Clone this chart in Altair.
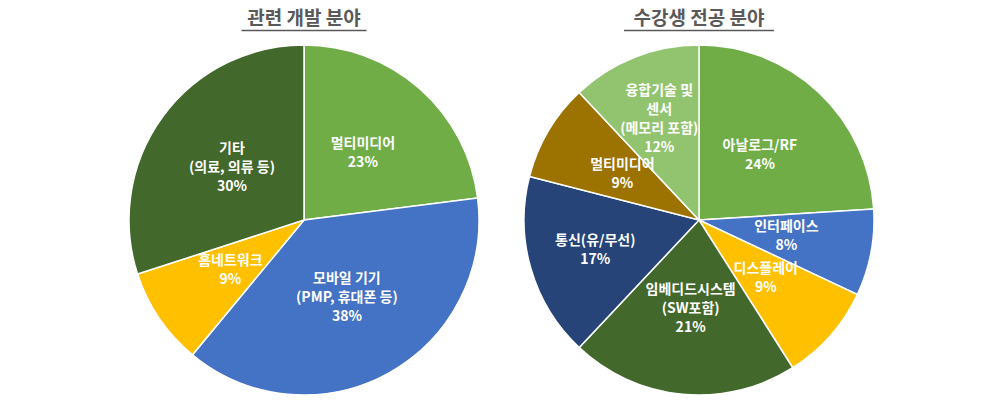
import altair as alt
import pandas as pd

# Left pie: 관련 개발 분야
left_title = "관련 개발 분야"
left_cats = ["멀티미디어", "모바일 기기\n(PMP, 휴대폰 등)", "홈네트워크", "기타\n(의료, 의류 등)"]
left_vals = [23, 38, 9, 30]
left_colors = ["#70AD47", "#4472C4", "#FFC000", "#43682B"]

# Right pie: 수강생 전공 분야
right_title = "수강생 전공 분야"
right_cats = ["아날로그/RF", "인터페이스", "디스플레이", "임베디드시스템\n(SW포함)",
              "통신(유/무선)", "멀티미디어", "융합기술 및\n센서\n(메모리 포함)"]
right_vals = [24, 8, 9, 21, 17, 9, 12]
right_colors = ["#70AD47", "#4472C4", "#FFC000", "#43682B", "#264478", "#9C7200", "#92C46F"]
# labels that Excel pushed further out (best fit)
right_outer = ["k4", "k6"]

R = 175
LH = 19
FONT = "Noto Sans CJK KR"


def make_pie(title, cats, vals, colors, ulen, outer_keys):
    df = pd.DataFrame({
        "idx": list(range(len(cats))),
        "key": [f"k{i}" for i in range(len(cats))],
        "val": vals,
        "label": [f"{c}\n{v}%" for c, v in zip(cats, vals)],
    })
    base = alt.Chart(df).transform_calculate(
        nlines="length(split(datum.label, '\\n'))"
    ).encode(
        theta=alt.Theta("val:Q", stack=True),
        order=alt.Order("idx:Q"),
    )
    arcs = base.mark_arc(outerRadius=R, stroke="white", strokeWidth=1.5).encode(
        color=alt.Color("key:N", scale=alt.Scale(domain=list(df["key"]), range=colors), legend=None)
    )
    txt = dict(color="white", font=FONT, fontWeight="bold", fontSize=14,
               lineBreak="\n", lineHeight=LH, align="center", baseline="middle")
    outer_list = "[" + ",".join(f"'{k}'" for k in outer_keys) + "]"
    layers = [arcs]
    for is_outer, rad in ((False, 89), (True, 108)):
        cmp = ">=" if is_outer else "<"
        for n in (2, 3, 4):
            cond = f"indexof({outer_list}, datum.key) {cmp} 0 && datum.nlines == {n}"
            layers.append(
                base.mark_text(radius=rad, dy=-(n - 1) * LH / 2, **txt).encode(
                    text=alt.condition(cond, "label:N", alt.value(""))
                )
            )
    tdf = pd.DataFrame({"t": [title]})
    ttl = alt.Chart(tdf).mark_text(
        font=FONT, fontWeight="bold", fontSize=19, color="#595959",
        align="center", baseline="middle"
    ).encode(x=alt.value(R), y=alt.value(-26), text="t:N")
    rule = alt.Chart(tdf).mark_rule(color="#595959", strokeWidth=1.5).encode(
        x=alt.value(R - ulen / 2), x2=alt.value(R + ulen / 2), y=alt.value(-14.5)
    )
    layers += [ttl, rule]
    return alt.layer(*layers).properties(width=2 * R, height=2 * R)


left = make_pie(left_title, left_cats, left_vals, left_colors, 125, [])
right = make_pie(right_title, right_cats, right_vals, right_colors, 150, right_outer)

chart = alt.hconcat(left, right, spacing=39).resolve_scale(
    color="independent", theta="independent"
).properties(
    padding={"left": 118, "top": 2, "right": 5, "bottom": 5}
).configure_view(stroke=None)

chart.save("out.html", embed_options={"renderer": "svg", "actions": False})
